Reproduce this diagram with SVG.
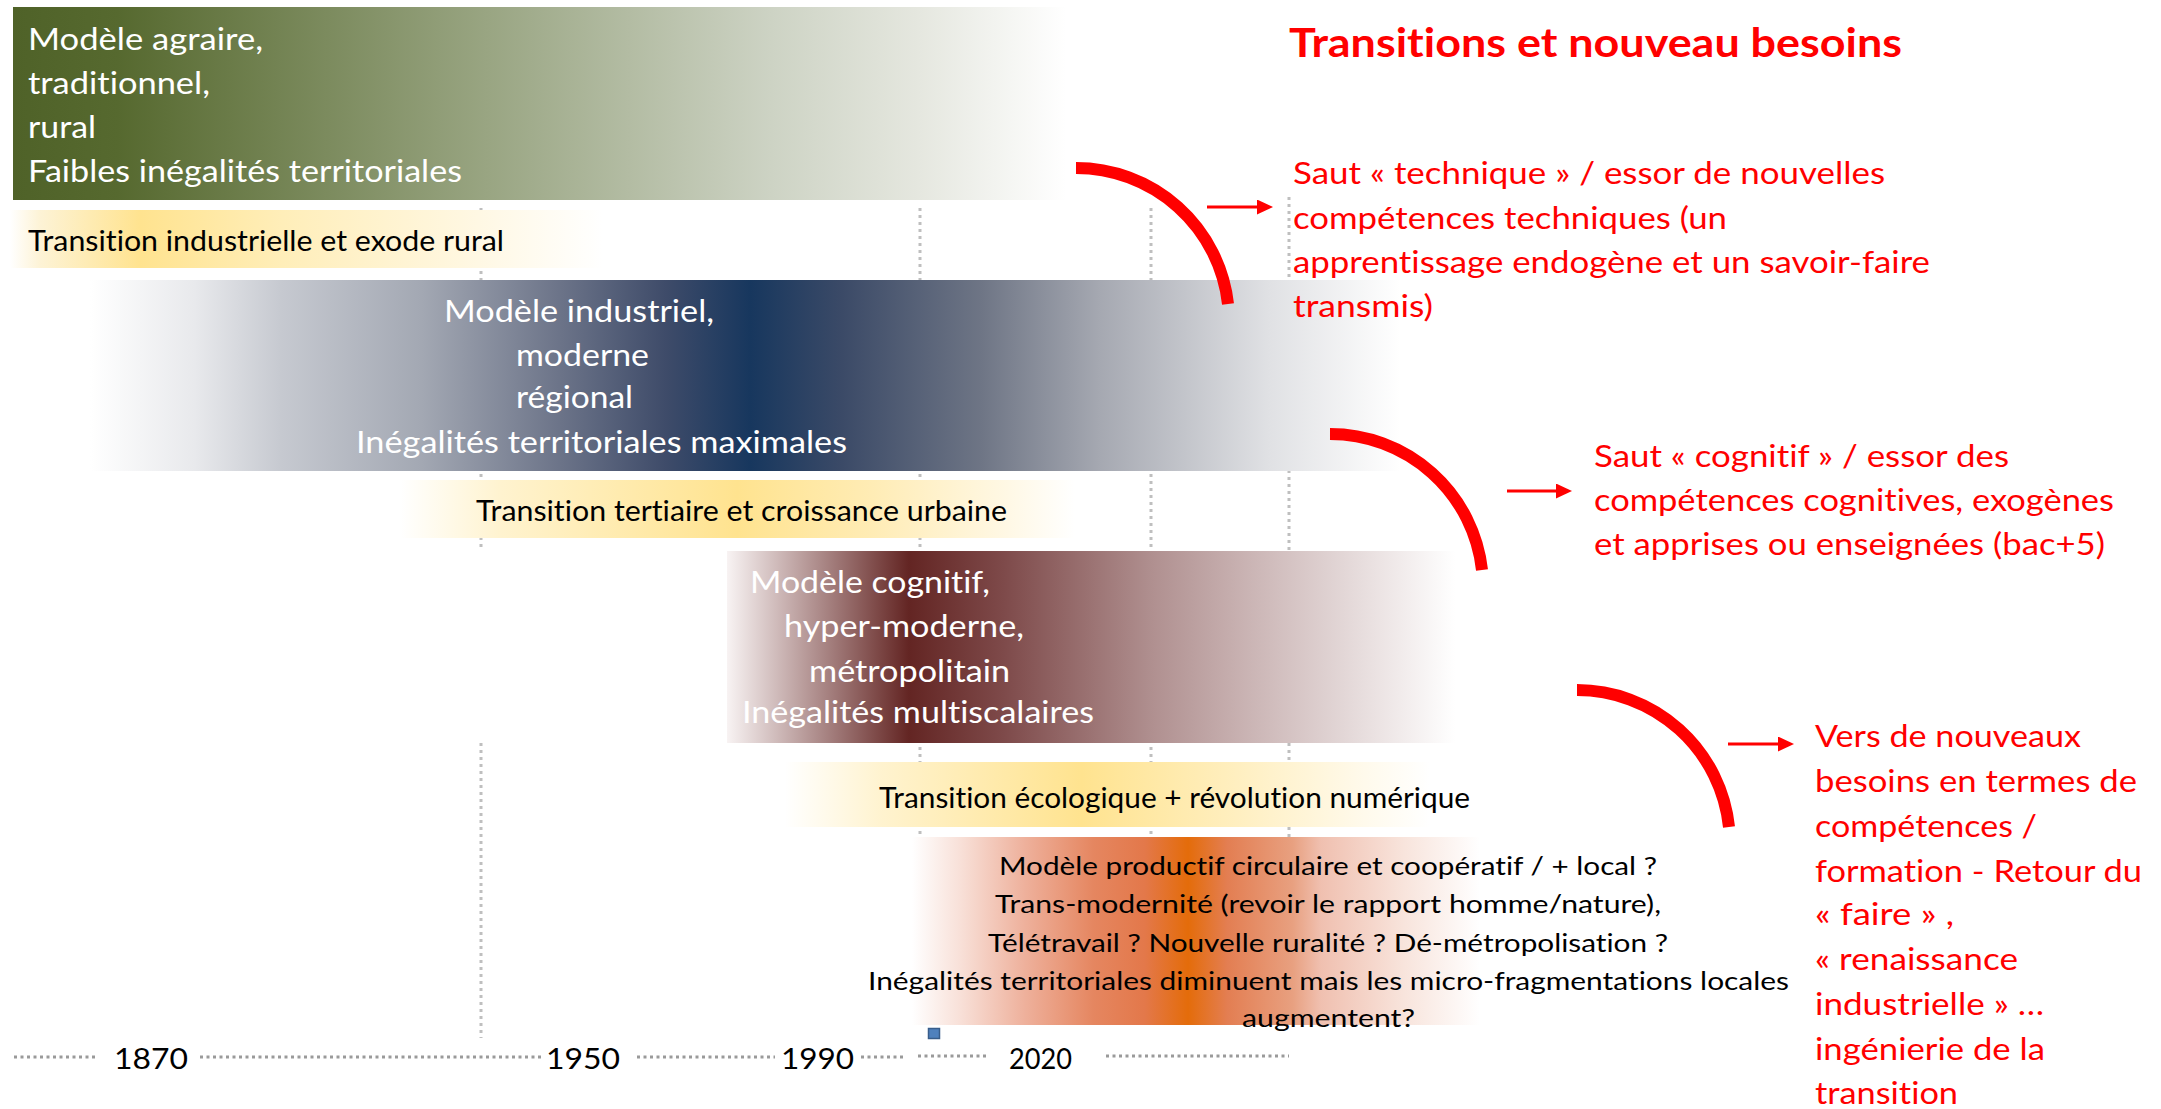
<svg xmlns="http://www.w3.org/2000/svg" width="2161" height="1109" viewBox="0 0 2161 1109">
  <style>
    text { font-family: Lato, "Open Sans", "Liberation Sans", sans-serif; font-variant-ligatures: none; }
    .w { fill: #ffffff; font-size: 30px; }
    .k { fill: #000000; font-size: 29px; }
    .ko { fill: #000000; font-size: 25.5px; }
    .r { fill: #ff0000; font-size: 31px; }
    .title { fill: #ff0000; font-size: 40px; font-weight: bold; }
    .yr { fill: #000000; font-size: 29px; }
    .grid { stroke: #bfbfbf; stroke-width: 3; stroke-dasharray: 3 4; fill: none; }
    .tl { stroke: #9a9a9a; stroke-width: 3; stroke-dasharray: 3 3.5; fill: none; }
    .arc { stroke: #ff0000; stroke-width: 12; fill: none; }
    .arr { stroke: #ff0000; stroke-width: 3; fill: none; marker-end: url(#head); }
  </style>
  <defs>
    <marker id="head" markerUnits="userSpaceOnUse" markerWidth="16" markerHeight="15" viewBox="0 0 16 15" refX="4" refY="7.5" orient="auto">
      <path d="M0,0 L16,7.5 L0,15 Z" fill="#ff0000"/>
    </marker>
    <linearGradient id="gGreen" x1="0" y1="0" x2="1" y2="0">
      <stop offset="0" stop-color="#4f6228"/>
      <stop offset="0.1" stop-color="#56692f"/>
      <stop offset="0.45" stop-color="#99a582"/>
      <stop offset="0.72" stop-color="#cdd3c4"/>
      <stop offset="0.86" stop-color="#e5e7df"/>
      <stop offset="1" stop-color="#ffffff"/>
    </linearGradient>
    <linearGradient id="gBlue" x1="0" y1="0" x2="1" y2="0">
      <stop offset="0" stop-color="#ffffff"/>
      <stop offset="0.08" stop-color="#e8e9ec"/>
      <stop offset="0.146" stop-color="#c6c9d0"/>
      <stop offset="0.253" stop-color="#a3a8b3"/>
      <stop offset="0.36" stop-color="#6b7388"/>
      <stop offset="0.44" stop-color="#3e4b69"/>
      <stop offset="0.504" stop-color="#17375e"/>
      <stop offset="0.574" stop-color="#3b4a67"/>
      <stop offset="0.68" stop-color="#6e7585"/>
      <stop offset="0.77" stop-color="#a5a8b1"/>
      <stop offset="0.9" stop-color="#e0e1e4"/>
      <stop offset="1" stop-color="#ffffff"/>
    </linearGradient>
    <linearGradient id="gMaroon" x1="0" y1="0" x2="1" y2="0">
      <stop offset="0" stop-color="#f8f3f3"/>
      <stop offset="0.25" stop-color="#632523"/>
      <stop offset="0.38" stop-color="#7e4a4a"/>
      <stop offset="0.585" stop-color="#b09090"/>
      <stop offset="0.72" stop-color="#cbb5b5"/>
      <stop offset="0.86" stop-color="#e5dada"/>
      <stop offset="1" stop-color="#ffffff"/>
    </linearGradient>
    <linearGradient id="gY1" x1="0" y1="0" x2="1" y2="0">
      <stop offset="0" stop-color="#ffffff"/>
      <stop offset="0.05" stop-color="#fdf3d6"/>
      <stop offset="0.22" stop-color="#ffe38f"/>
      <stop offset="0.46" stop-color="#ffeeb9"/>
      <stop offset="0.7" stop-color="#fff5d8"/>
      <stop offset="1" stop-color="#ffffff"/>
    </linearGradient>
    <linearGradient id="gY2" x1="0" y1="0" x2="1" y2="0">
      <stop offset="0" stop-color="#ffffff"/>
      <stop offset="0.15" stop-color="#fff3cf"/>
      <stop offset="0.5" stop-color="#ffe38f"/>
      <stop offset="0.7" stop-color="#ffecb5"/>
      <stop offset="0.9" stop-color="#fff8e5"/>
      <stop offset="1" stop-color="#ffffff"/>
    </linearGradient>
    <linearGradient id="gY3" x1="0" y1="0" x2="1" y2="0">
      <stop offset="0" stop-color="#ffffff"/>
      <stop offset="0.15" stop-color="#fff3cf"/>
      <stop offset="0.46" stop-color="#ffe38f"/>
      <stop offset="0.7" stop-color="#ffefc0"/>
      <stop offset="0.9" stop-color="#fffaec"/>
      <stop offset="1" stop-color="#ffffff"/>
    </linearGradient>
    <linearGradient id="gOrange" x1="0" y1="0" x2="1" y2="0">
      <stop offset="0" stop-color="#ffffff"/>
      <stop offset="0.085" stop-color="#f8e0d8"/>
      <stop offset="0.2" stop-color="#eeb09b"/>
      <stop offset="0.32" stop-color="#e58660"/>
      <stop offset="0.41" stop-color="#e3784a"/>
      <stop offset="0.486" stop-color="#e46c0a"/>
      <stop offset="0.555" stop-color="#e37e52"/>
      <stop offset="0.67" stop-color="#e8a080"/>
      <stop offset="0.72" stop-color="#f0c0b0"/>
      <stop offset="0.866" stop-color="#f8e4dc"/>
      <stop offset="1" stop-color="#ffffff"/>
    </linearGradient>
  </defs>

  <rect width="2161" height="1109" fill="#ffffff"/>

  <g id="gridlines">
    <line class="grid" x1="481" y1="208" x2="481" y2="551"/>
    <line class="grid" x1="481" y1="743" x2="481" y2="1038"/>
    <line class="grid" x1="920" y1="208" x2="920" y2="837"/>
    <line class="grid" x1="1151" y1="208" x2="1151" y2="837"/>
    <line class="grid" x1="1289" y1="197" x2="1289" y2="837"/>
  </g>

  <g id="modele-agraire">
    <rect x="13" y="7" width="1053" height="193" fill="url(#gGreen)"/>
    <text class="w" x="28" y="50" textLength="235" lengthAdjust="spacingAndGlyphs">Modèle agraire,</text>
    <text class="w" x="28" y="94" textLength="182" lengthAdjust="spacingAndGlyphs">traditionnel,</text>
    <text class="w" x="28" y="138" textLength="68" lengthAdjust="spacingAndGlyphs">rural</text>
    <text class="w" x="28" y="182" textLength="434" lengthAdjust="spacingAndGlyphs">Faibles inégalités territoriales</text>
  </g>

  <g id="transition-industrielle">
    <rect x="10" y="210" width="593" height="58" fill="url(#gY1)"/>
    <text class="k" x="28" y="251" textLength="476" lengthAdjust="spacingAndGlyphs">Transition industrielle et exode rural</text>
  </g>

  <g id="modele-industriel">
    <rect x="90" y="280" width="1310" height="191" fill="url(#gBlue)"/>
    <text class="w" x="444" y="322" textLength="270" lengthAdjust="spacingAndGlyphs">Modèle industriel,</text>
    <text class="w" x="516" y="366" textLength="133" lengthAdjust="spacingAndGlyphs">moderne</text>
    <text class="w" x="516" y="408" textLength="117" lengthAdjust="spacingAndGlyphs">régional</text>
    <text class="w" x="356" y="453" textLength="491" lengthAdjust="spacingAndGlyphs">Inégalités territoriales maximales</text>
  </g>

  <g id="transition-tertiaire">
    <rect x="400" y="480" width="675" height="58" fill="url(#gY2)"/>
    <text class="k" x="476" y="521" textLength="531" lengthAdjust="spacingAndGlyphs">Transition tertiaire et croissance urbaine</text>
  </g>

  <g id="modele-cognitif">
    <rect x="727" y="551" width="728" height="192" fill="url(#gMaroon)"/>
    <text class="w" x="750" y="593" textLength="240" lengthAdjust="spacingAndGlyphs">Modèle cognitif,</text>
    <text class="w" x="784" y="637" textLength="240" lengthAdjust="spacingAndGlyphs">hyper-moderne,</text>
    <text class="w" x="809" y="682" textLength="201" lengthAdjust="spacingAndGlyphs">métropolitain</text>
    <text class="w" x="742" y="723" textLength="352" lengthAdjust="spacingAndGlyphs">Inégalités multiscalaires</text>
  </g>

  <g id="transition-ecologique">
    <rect x="785" y="762" width="645" height="65" fill="url(#gY3)"/>
    <text class="k" x="879" y="808" textLength="591" lengthAdjust="spacingAndGlyphs">Transition écologique + révolution numérique</text>
  </g>

  <g id="modele-productif">
    <rect x="912" y="837" width="568" height="188" fill="url(#gOrange)"/>
    <text class="ko" x="999" y="875" textLength="658" lengthAdjust="spacingAndGlyphs">Modèle productif circulaire et coopératif / + local ?</text>
    <text class="ko" x="995" y="913" textLength="666" lengthAdjust="spacingAndGlyphs">Trans-modernité (revoir le rapport homme/nature),</text>
    <text class="ko" x="988" y="952" textLength="680" lengthAdjust="spacingAndGlyphs">Télétravail ? Nouvelle ruralité ? Dé-métropolisation ?</text>
    <text class="ko" x="868" y="990" textLength="921" lengthAdjust="spacingAndGlyphs">Inégalités territoriales diminuent mais les micro-fragmentations locales</text>
    <text class="ko" x="1242" y="1027" textLength="173" lengthAdjust="spacingAndGlyphs">augmentent?</text>
  </g>

  <g id="titre">
    <text class="title" x="1289" y="57" textLength="613" lengthAdjust="spacingAndGlyphs">Transitions et nouveau besoins</text>
  </g>

  <g id="saut-technique">
    <text class="r" x="1293" y="184" textLength="592" lengthAdjust="spacingAndGlyphs">Saut « technique » / essor de nouvelles</text>
    <text class="r" x="1293" y="229" textLength="434" lengthAdjust="spacingAndGlyphs">compétences techniques (un</text>
    <text class="r" x="1293" y="273" textLength="637" lengthAdjust="spacingAndGlyphs">apprentissage endogène et un savoir-faire</text>
    <text class="r" x="1293" y="317" textLength="140" lengthAdjust="spacingAndGlyphs">transmis)</text>
  </g>

  <g id="saut-cognitif">
    <text class="r" x="1594" y="467" textLength="415" lengthAdjust="spacingAndGlyphs">Saut « cognitif » / essor des</text>
    <text class="r" x="1594" y="511" textLength="520" lengthAdjust="spacingAndGlyphs">compétences cognitives, exogènes</text>
    <text class="r" x="1594" y="555" textLength="511" lengthAdjust="spacingAndGlyphs">et apprises ou enseignées (bac+5)</text>
  </g>

  <g id="nouveaux-besoins">
    <text class="r" x="1815" y="747" textLength="266" lengthAdjust="spacingAndGlyphs">Vers de nouveaux</text>
    <text class="r" x="1815" y="792" textLength="322" lengthAdjust="spacingAndGlyphs">besoins en termes de</text>
    <text class="r" x="1815" y="837" textLength="222" lengthAdjust="spacingAndGlyphs">compétences /</text>
    <text class="r" x="1815" y="882" textLength="327" lengthAdjust="spacingAndGlyphs">formation - Retour du</text>
    <text class="r" x="1815" y="925" textLength="139" lengthAdjust="spacingAndGlyphs">« faire » ,</text>
    <text class="r" x="1815" y="970" textLength="203" lengthAdjust="spacingAndGlyphs">« renaissance</text>
    <text class="r" x="1815" y="1015" textLength="229" lengthAdjust="spacingAndGlyphs">industrielle » …</text>
    <text class="r" x="1815" y="1060" textLength="230" lengthAdjust="spacingAndGlyphs">ingénierie de la</text>
    <text class="r" x="1815" y="1104" textLength="143" lengthAdjust="spacingAndGlyphs">transition</text>
  </g>

  <g id="connectors">
    <path class="arc" d="M1076,168 A153,153 0 0 1 1228,304"/>
    <path class="arc" d="M1330,434 A153,153 0 0 1 1482,570"/>
    <path class="arc" d="M1577,690 A153,153 0 0 1 1729,827"/>
    <line class="arr" x1="1207" y1="207" x2="1261" y2="207"/>
    <line class="arr" x1="1507" y1="491" x2="1560" y2="491"/>
    <line class="arr" x1="1728" y1="744" x2="1782" y2="744"/>
  </g>

  <g id="timeline">
    <line class="tl" x1="14" y1="1057" x2="95" y2="1057"/>
    <line class="tl" x1="200" y1="1057" x2="544" y2="1057"/>
    <line class="tl" x1="637" y1="1057" x2="775" y2="1057"/>
    <line class="tl" x1="861" y1="1057" x2="906" y2="1057"/>
    <line class="tl" x1="918" y1="1056" x2="988" y2="1056" stroke-dasharray="3 4.5"/>
    <line class="tl" x1="1106" y1="1056" x2="1289" y2="1056" stroke-dasharray="3 4.5"/>
    <text class="yr" x="114" y="1069" textLength="74" lengthAdjust="spacingAndGlyphs">1870</text>
    <text class="yr" x="546" y="1069" textLength="74" lengthAdjust="spacingAndGlyphs">1950</text>
    <text class="yr" x="781" y="1069" textLength="73" lengthAdjust="spacingAndGlyphs">1990</text>
    <text class="yr" x="1009" y="1069" font-size="26.5" textLength="63" lengthAdjust="spacingAndGlyphs">2020</text>
    <rect x="928.5" y="1028.5" width="11" height="10" fill="#4f81bd" stroke="#385d8a" stroke-width="1.5"/>
  </g>
</svg>
